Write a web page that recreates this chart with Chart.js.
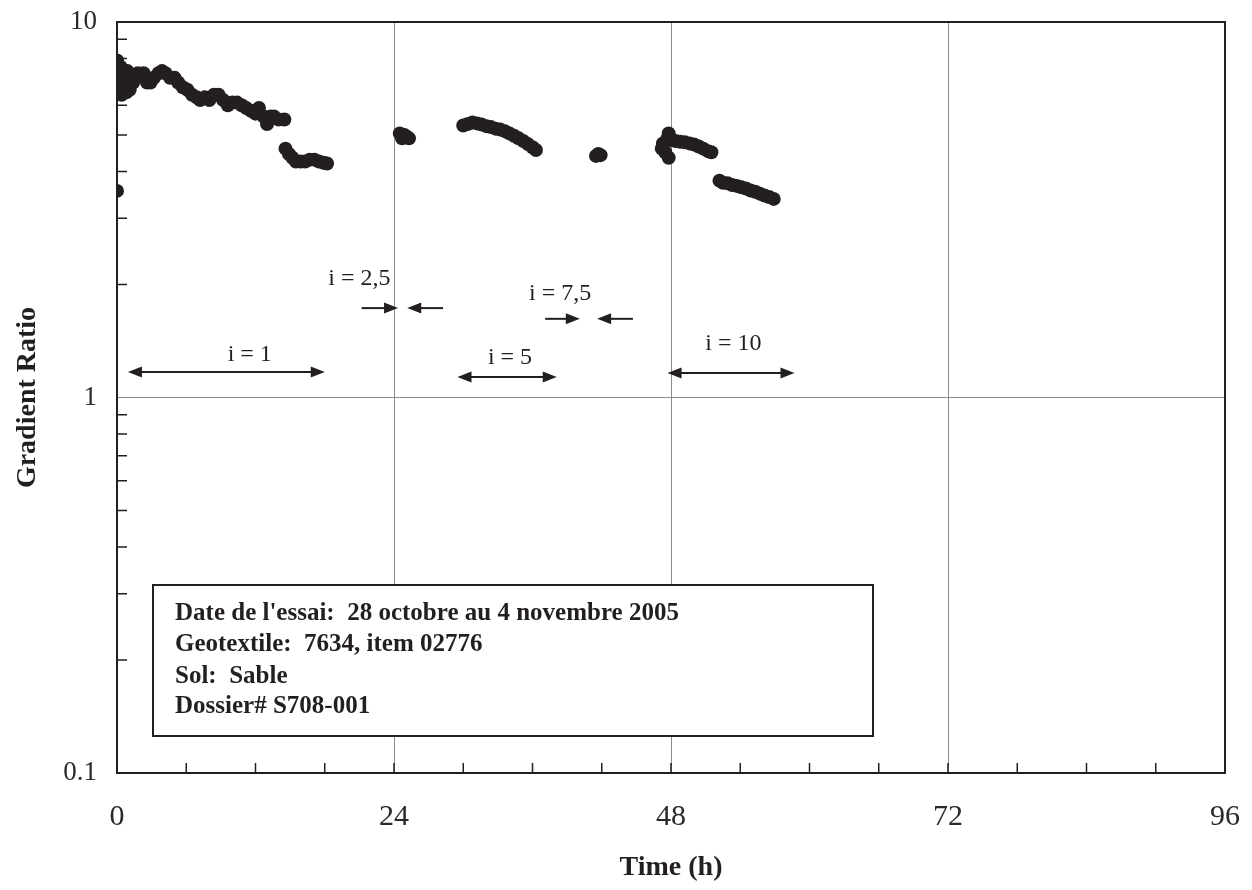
<!DOCTYPE html>
<html>
<head>
<meta charset="utf-8">
<title>Gradient Ratio</title>
<script src="https://cdn.jsdelivr.net/npm/chart.js@4.4.1/dist/chart.umd.min.js"></script>
<style>
  html, body { margin: 0; padding: 0; background: #fff; }
  #wrap { width: 1252px; height: 890px; }
</style>
</head>
<body>
<div id="wrap"><canvas id="gr" width="1252" height="890"></canvas></div>
<script>
// readings (time in hours, gradient ratio)
const timeH = [
  0, 0.05, 0.1, 0.15, 0.2, 0.3, 0.35, 0.4, 0.5, 0.6, 0.7, 0.8, 0.9, 1.0, 1.1, 1.2, 1.4, 1.6,
  1.8, 2.0, 2.3, 2.6, 2.9, 3.2, 3.6, 3.9, 4.2, 4.6, 5.0, 5.3, 5.7, 6.1, 6.5, 6.9, 7.2, 7.6,
  8.0, 8.4, 8.8, 9.2, 9.6, 10.0, 10.4, 10.8, 11.2, 11.6, 12.0, 12.3, 12.7, 13.0, 13.3, 13.6,
  14.0, 14.5, 0,
  14.6, 14.9, 15.2, 15.5, 15.9, 16.3, 16.7, 17.1, 17.5, 17.9, 18.2,
  24.5, 24.7, 24.9, 25.1, 25.3,
  30.0, 30.4, 30.8, 31.2, 31.6, 32.0, 32.4, 32.8, 33.2, 33.6, 34.0, 34.4, 34.8, 35.2, 35.6, 36.0, 36.3,
  41.5, 41.7, 41.9,
  47.2, 47.3, 47.5, 47.7, 47.8, 47.8, 48.0, 48.4, 48.8, 49.2, 49.6, 50.0, 50.4, 50.8, 51.2, 51.5,
  52.2, 52.5, 52.9, 53.3, 53.7, 54.1, 54.5, 54.9, 55.3, 55.7, 56.1, 56.5, 56.9
];
const gradRatio = [
  7.9, 7.5, 7.2, 6.9, 6.6, 7.6, 7.0, 6.4, 7.3, 6.8, 7.1, 6.5, 7.4, 6.9, 6.6, 7.2, 6.9, 7.1,
  7.3, 7.2, 7.3, 6.9, 6.9, 7.1, 7.3, 7.4, 7.3, 7.1, 7.1, 6.9, 6.7, 6.6, 6.4, 6.3, 6.2, 6.3,
  6.2, 6.4, 6.4, 6.2, 6.0, 6.1, 6.1, 6.0, 5.9, 5.8, 5.7, 5.9, 5.6, 5.35, 5.6, 5.6,
  5.5, 5.5, 3.55,
  4.6, 4.45, 4.35, 4.25, 4.25, 4.25, 4.3, 4.3, 4.25, 4.22, 4.2,
  5.05, 4.9, 5.0, 4.95, 4.9,
  5.3, 5.35, 5.4, 5.37, 5.33, 5.28, 5.25, 5.2, 5.17, 5.12, 5.05, 4.98, 4.9, 4.82, 4.73, 4.64, 4.56,
  4.4, 4.45, 4.42,
  4.6, 4.75, 4.5, 4.9, 5.05, 4.35, 4.85, 4.82, 4.8, 4.78, 4.75, 4.72, 4.66, 4.6, 4.53, 4.5,
  3.78, 3.73, 3.72, 3.68, 3.66, 3.63, 3.6, 3.56, 3.53, 3.49, 3.45, 3.42, 3.38
];

const xTickValues = [0, 6, 12, 18, 24, 30, 36, 42, 48, 54, 60, 66, 72, 78, 84, 90, 96];
const xLabelled = [0, 24, 48, 72, 96];
const xGridLines = [24, 48, 72];
const yTickValues = [0.1, 0.2, 0.3, 0.4, 0.5, 0.6, 0.7, 0.8, 0.9, 1, 2, 3, 4, 5, 6, 7, 8, 9, 10];
const yLabelled = [0.1, 1, 10];
const yGridLines = [1];

// load step arrows: from h, to h, at ratio, double headed or not
const arrowFrom = [0.95, 21.2, 28.25, 29.5, 37.1, 44.7, 47.7];
const arrowTo   = [18.0, 24.35, 25.15, 38.1, 40.1, 41.6, 58.7];
const arrowAt   = [1.169, 1.73, 1.73, 1.134, 1.62, 1.62, 1.162];
const arrowBoth = [true, false, false, true, false, false, true];
const stepText  = ['i = 1', 'i = 2,5', 'i = 7,5', 'i = 5', 'i = 10'];
const stepTextX = [11.5, 21.0, 38.4, 34.05, 53.4];
const stepTextY = [1.30, 2.07, 1.89, 1.28, 1.39];

const infoLines = [
  "Date de l'essai:  28 octobre au 4 novembre 2005",
  'Geotextile:  7634, item 02776',
  'Sol:  Sable',
  'Dossier# S708-001'
];

const serif = '"Liberation Serif", "Times New Roman", serif';
const ink = '#231f20';

const near = (a, b) => Math.abs(a - b) < 1e-9 * Math.max(1, Math.abs(b));

const extras = {
  id: 'extras',
  afterDatasetsDraw(chart) {
    const { ctx, chartArea: a, scales: { x, y } } = chart;
    ctx.save();
    ctx.strokeStyle = ink;
    ctx.fillStyle = ink;

    // inward minor ticks
    ctx.lineWidth = 1.5;
    ctx.beginPath();
    xTickValues.forEach(v => {
      if (v <= 0 || v >= 96) return;
      const px = x.getPixelForValue(v);
      ctx.moveTo(px, a.bottom);
      ctx.lineTo(px, a.bottom - 10);
    });
    yTickValues.forEach(v => {
      if (yLabelled.some(l => near(l, v))) return;
      const py = y.getPixelForValue(v);
      ctx.moveTo(a.left, py);
      ctx.lineTo(a.left + 10, py);
    });
    ctx.stroke();

    // arrows
    const head = (tx, ty, dir) => {
      ctx.beginPath();
      ctx.moveTo(tx, ty);
      ctx.lineTo(tx - dir * 14, ty - 5.5);
      ctx.lineTo(tx - dir * 14, ty + 5.5);
      ctx.closePath();
      ctx.fill();
    };
    ctx.lineWidth = 2;
    arrowFrom.forEach((f, i) => {
      const x1 = x.getPixelForValue(f);
      const x2 = x.getPixelForValue(arrowTo[i]);
      const py = y.getPixelForValue(arrowAt[i]);
      const dir = x2 > x1 ? 1 : -1;
      ctx.beginPath();
      ctx.moveTo(x1 + (arrowBoth[i] ? dir * 8 : 0), py);
      ctx.lineTo(x2 - dir * 8, py);
      ctx.stroke();
      head(x2, py, dir);
      if (arrowBoth[i]) head(x1, py, -dir);
    });

    ctx.font = '24px ' + serif;
    ctx.textAlign = 'center';
    ctx.textBaseline = 'middle';
    stepText.forEach((t, i) => {
      ctx.fillText(t, x.getPixelForValue(stepTextX[i]), y.getPixelForValue(stepTextY[i]));
    });

    // info box
    const bx = a.left + 36, by = a.top + 563, bw = 720, bh = 151;
    ctx.fillStyle = '#fff';
    ctx.fillRect(bx, by, bw, bh);
    ctx.lineWidth = 2;
    ctx.strokeStyle = ink;
    ctx.strokeRect(bx, by, bw, bh);
    ctx.fillStyle = ink;
    ctx.font = 'bold 25px ' + serif;
    ctx.textAlign = 'left';
    [29, 60, 92, 122].forEach((dy, i) => ctx.fillText(infoLines[i], bx + 22, by + dy));
    ctx.restore();
  },
  afterDraw(chart) {
    const { ctx, chartArea: a } = chart;
    ctx.save();
    ctx.strokeStyle = ink;
    ctx.lineWidth = 2;
    ctx.strokeRect(a.left, a.top, a.right - a.left, a.bottom - a.top);
    ctx.restore();
  }
};

new Chart(document.getElementById('gr'), {
  type: 'scatter',
  data: {
    datasets: [{
      data: timeH.map((t, i) => ({ x: t, y: gradRatio[i] })),
      backgroundColor: ink,
      borderColor: ink,
      pointRadius: 7,
      pointBorderWidth: 0,
      showLine: false
    }]
  },
  options: {
    responsive: false,
    animation: false,
    layout: { padding: { top: 22, right: 27, left: 0, bottom: 0 } },
    plugins: { legend: { display: false }, tooltip: { enabled: false } },
    scales: {
      x: {
        type: 'linear',
        min: 0,
        max: 96,
        afterBuildTicks: s => { s.ticks = xTickValues.map(v => ({ value: v })); },
        afterFit: s => { s.height = 117; s.paddingLeft = 0; s.paddingRight = 0; },
        ticks: {
          autoSkip: false,
          maxRotation: 0,
          padding: 26,
          color: '#2a2a2a',
          font: { family: serif, size: 30 },
          callback: v => xLabelled.includes(v) ? String(v) : ''
        },
        grid: {
          drawTicks: false,
          lineWidth: 1,
          color: c => (c.tick && xGridLines.includes(c.tick.value)) ? '#8c8c8c' : 'rgba(0,0,0,0)'
        },
        border: { display: false },
        title: {
          display: true,
          text: 'Time (h)',
          color: ink,
          font: { family: serif, size: 28, weight: 'bold' },
          padding: { top: 0, bottom: 5 }
        }
      },
      y: {
        type: 'logarithmic',
        min: 0.1,
        max: 10,
        afterBuildTicks: s => { s.ticks = yTickValues.map(v => ({ value: v })); },
        afterFit: s => { s.width = 117; s.paddingTop = 0; s.paddingBottom = 0; },
        ticks: {
          autoSkip: false,
          padding: 20,
          color: '#2a2a2a',
          font: { family: serif, size: 27 },
          callback: v => {
            const l = yLabelled.find(k => near(k, v));
            return l === undefined ? '' : String(l);
          }
        },
        grid: {
          drawTicks: false,
          lineWidth: 1,
          color: c => (c.tick && yGridLines.some(g => near(g, c.tick.value))) ? '#8c8c8c' : 'rgba(0,0,0,0)'
        },
        border: { display: false },
        title: {
          display: true,
          text: 'Gradient Ratio',
          color: ink,
          font: { family: serif, size: 28, weight: 'bold' },
          padding: { top: 11, bottom: 0 }
        }
      }
    }
  },
  plugins: [extras]
});
</script>
</body>
</html>
